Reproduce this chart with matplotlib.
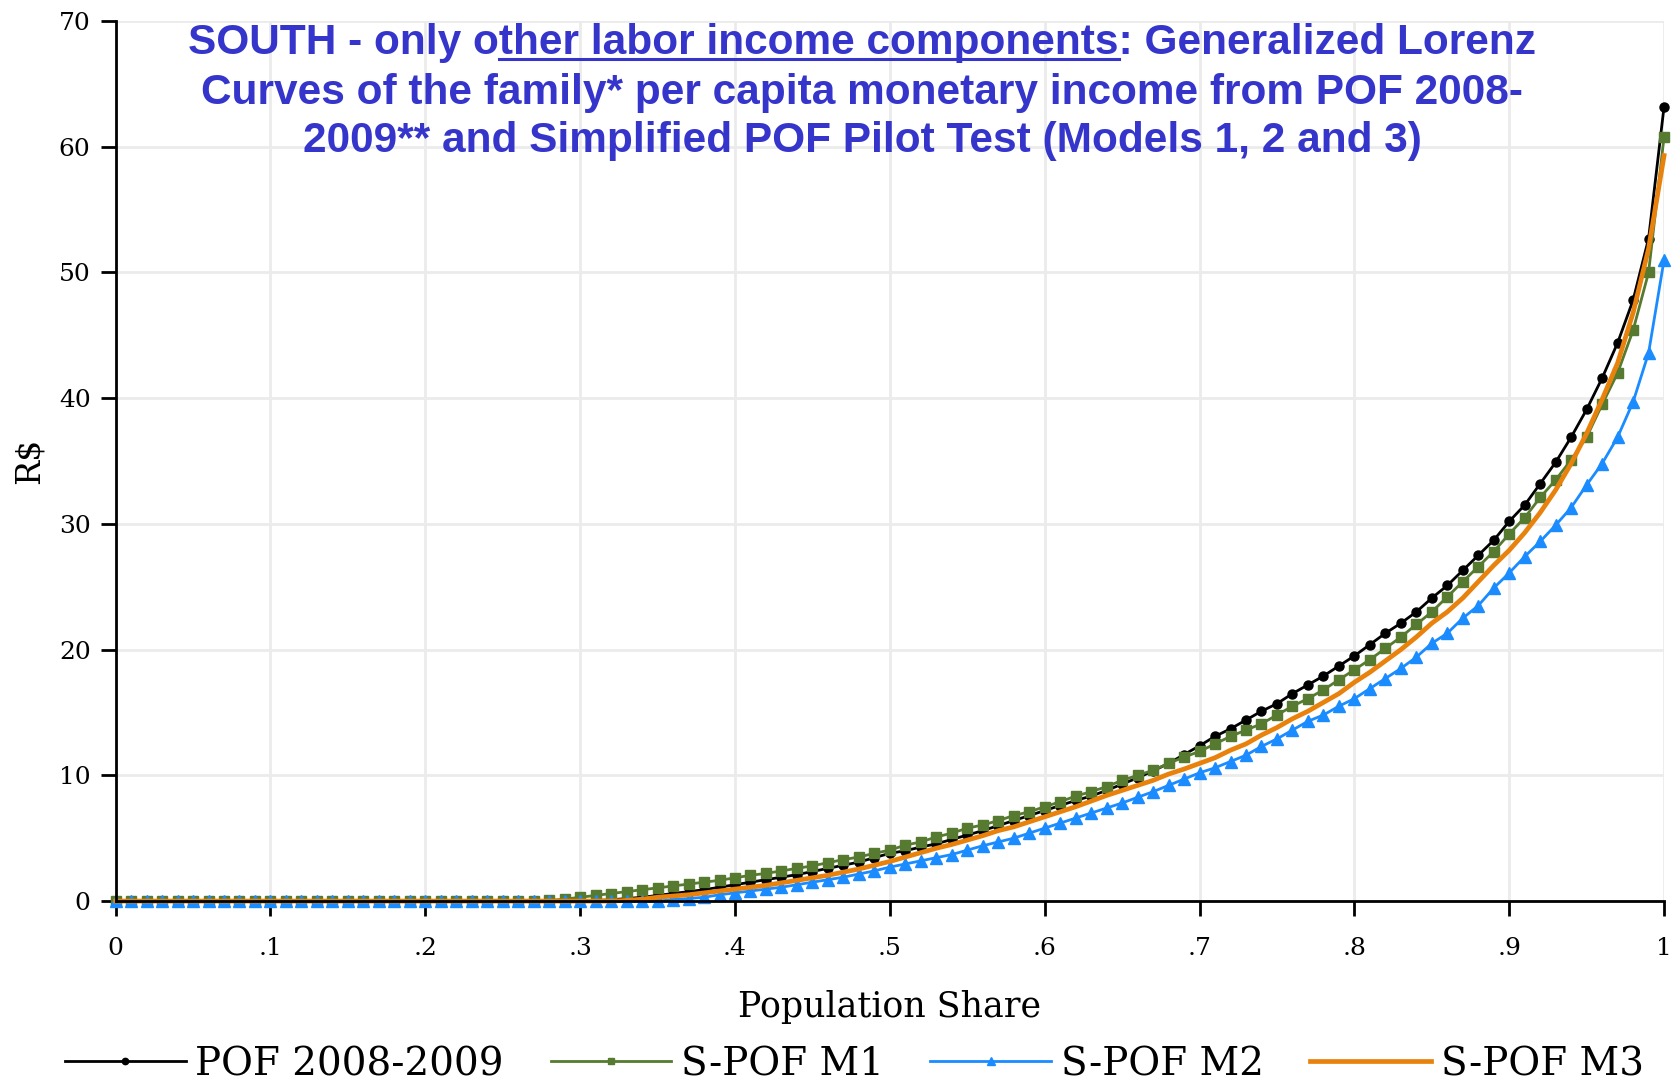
import numpy as np
import matplotlib
matplotlib.use("Agg")
import matplotlib.pyplot as plt
from matplotlib.lines import Line2D

# population share grid (percentiles)
share = np.linspace(0, 1, 101)

pof_2008_2009 = [
    0, 0, 0, 0, 0, 0, 0, 0, 0, 0,
    0, 0, 0, 0, 0, 0, 0, 0, 0, 0,
    0, 0, 0, 0, 0, 0, 0, 0, 0, 0,
    0.0, 0.05, 0.1, 0.2, 0.3, 0.45, 0.6, 0.75, 0.9, 1.1,
    1.3, 1.5, 1.7, 1.9, 2.1, 2.35, 2.6, 2.85, 3.1, 3.45,
    3.8, 4.0, 4.3, 4.55, 4.9, 5.25, 5.6, 6.0, 6.4, 6.8,
    7.2, 7.6, 8.0, 8.35, 8.8, 9.3, 9.8, 10.35, 10.95, 11.65,
    12.35, 13.1, 13.7, 14.4, 15.1, 15.7, 16.5, 17.2, 17.9, 18.7,
    19.5, 20.4, 21.3, 22.1, 23.0, 24.1, 25.1, 26.3, 27.5, 28.7,
    30.2, 31.5, 33.2, 34.9, 36.9, 39.1, 41.6, 44.4, 47.8, 52.7,
    63.2,
]

spof_m1 = [
    0, 0, 0, 0, 0, 0, 0, 0, 0, 0,
    0, 0, 0, 0, 0, 0, 0, 0, 0, 0,
    0, 0, 0, 0, 0, 0, 0, 0, 0.05, 0.15,
    0.3, 0.45, 0.6, 0.75, 0.9, 1.05, 1.2, 1.35, 1.5, 1.65,
    1.85, 2.05, 2.2, 2.4, 2.6, 2.8, 3.05, 3.3, 3.5, 3.8,
    4.05, 4.45, 4.7, 5.1, 5.4, 5.8, 6.05, 6.4, 6.8, 7.1,
    7.5, 7.9, 8.35, 8.7, 9.1, 9.6, 10.0, 10.4, 10.95, 11.45,
    11.9, 12.5, 13.1, 13.6, 14.1, 14.8, 15.5, 16.1, 16.8, 17.6,
    18.4, 19.2, 20.1, 21.0, 22.0, 23.0, 24.2, 25.4, 26.6, 27.8,
    29.2, 30.5, 32.1, 33.5, 35.1, 36.9, 39.5, 42.0, 45.4, 50.0,
    60.8,
]

spof_m2 = [
    0, 0, 0, 0, 0, 0, 0, 0, 0, 0,
    0, 0, 0, 0, 0, 0, 0, 0, 0, 0,
    0, 0, 0, 0, 0, 0, 0, 0, 0, 0,
    0, 0, 0, 0, 0, 0, 0.1, 0.2, 0.3, 0.5,
    0.65, 0.8, 0.95, 1.1, 1.3, 1.5, 1.7, 1.9, 2.15, 2.4,
    2.7, 2.95, 3.2, 3.45, 3.7, 4.05, 4.4, 4.7, 5.0, 5.4,
    5.8, 6.2, 6.6, 7.0, 7.4, 7.8, 8.25, 8.7, 9.2, 9.7,
    10.2, 10.6, 11.1, 11.6, 12.3, 12.9, 13.6, 14.3, 14.8, 15.5,
    16.1, 16.9, 17.7, 18.5, 19.4, 20.5, 21.3, 22.5, 23.5, 24.9,
    26.1, 27.4, 28.6, 29.9, 31.3, 33.1, 34.8, 36.9, 39.7, 43.6,
    51.0,
]

spof_m3 = [
    0, 0, 0, 0, 0, 0, 0, 0, 0, 0,
    0, 0, 0, 0, 0, 0, 0, 0, 0, 0,
    0, 0, 0, 0, 0, 0, 0, 0, 0, 0,
    0, 0, 0, 0.05, 0.15, 0.3, 0.4, 0.5, 0.65, 0.8,
    0.95, 1.1, 1.25, 1.45, 1.65, 1.85, 2.05, 2.3, 2.55, 2.85,
    3.15, 3.5, 3.85, 4.2, 4.5, 4.85, 5.2, 5.6, 5.9, 6.3,
    6.7, 7.1, 7.5, 7.95, 8.4, 8.8, 9.2, 9.6, 10.1, 10.5,
    10.95, 11.4, 12.0, 12.5, 13.2, 13.8, 14.5, 15.1, 15.8, 16.5,
    17.4, 18.2, 19.1, 20.0, 21.0, 22.1, 23.0, 24.1, 25.4, 26.7,
    27.9, 29.3, 30.9, 32.7, 34.8, 37.2, 39.9, 42.8, 46.8, 51.9,
    59.3,
]

x_ticks = [0, 0.1, 0.2, 0.3, 0.4, 0.5, 0.6, 0.7, 0.8, 0.9, 1.0]
x_tick_labels = ["0", ".1", ".2", ".3", ".4", ".5", ".6", ".7", ".8", ".9", "1"]
y_ticks = [0, 10, 20, 30, 40, 50, 60, 70]

title_lines = [
    "SOUTH - only other labor income components: Generalized Lorenz",
    "Curves of the family* per capita monetary income from POF 2008-",
    "2009** and Simplified POF Pilot Test (Models 1, 2 and 3)",
]
title_prefix = "SOUTH - only o"
title_underlined = "ther labor income components"

serif = "DejaVu Serif"
title_color = "#3535CC"

fig = plt.figure(figsize=(16.78, 10.83), dpi=100)
ax = fig.add_axes([0.0689, 0.168, 0.9228, 0.8126])

ax.plot(share, pof_2008_2009, color="black", lw=2, marker="o", ms=6.5,
        label="POF 2008-2009", clip_on=False)
ax.plot(share, spof_m1, color="#567A30", lw=2, marker="s", ms=6.5,
        label="S-POF M1", clip_on=False)
ax.plot(share, spof_m2, color="#1A8CFF", lw=2, marker="^", ms=8.5,
        label="S-POF M2", clip_on=False)
ax.plot(share, spof_m3, color="#E8820C", lw=3.4,
        label="S-POF M3", clip_on=False)

ax.set_xlim(0, 1)
ax.set_ylim(0, 70)
ax.set_xticks(x_ticks)
ax.set_xticklabels(x_tick_labels)
ax.set_yticks(y_ticks)
ax.grid(True, color="#ebebeb", lw=2)
ax.set_axisbelow(True)

for side in ["top", "right"]:
    ax.spines[side].set_visible(False)
for side in ["left", "bottom"]:
    ax.spines[side].set_linewidth(2)
    ax.spines[side].set_zorder(5)

ax.tick_params(axis="x", length=11, width=2, pad=15, labelsize=18)
ax.tick_params(axis="y", length=11, width=2, pad=7, labelsize=18)
for lab in ax.get_xticklabels() + ax.get_yticklabels():
    lab.set_family(serif)

ax.set_xlabel("Population Share", family=serif, fontsize=25)
ax.xaxis.label.set_va("center")
ax.xaxis.set_label_coords(0.5, -0.12)
ax.set_ylabel("R$", family=serif, fontsize=24)
ax.yaxis.set_label_coords(-0.045, 0.5)

# title (blue, three lines, with an underlined part)
title_x = 0.514
title_y = [0.960, 0.914, 0.870]
title_kw = dict(ha="center", va="center", color=title_color,
                family="Liberation Sans", fontweight="bold", fontsize=30.5)
texts = [fig.text(title_x, y, s, **title_kw) for s, y in zip(title_lines, title_y)]

fig.canvas.draw()
r = fig.canvas.get_renderer()
tmp = fig.text(0, 0, title_prefix, **title_kw)
w_pre = tmp.get_window_extent(r).width
tmp.set_text(title_prefix + title_underlined)
w_all = tmp.get_window_extent(r).width
tmp.remove()
bb = texts[0].get_window_extent(r)
fw = fig.bbox.width
x0 = (bb.x0 + w_pre) / fw
x1 = (bb.x0 + w_all) / fw
fig.add_artist(Line2D([x0, x1], [0.9455, 0.9455], color=title_color, lw=2.2,
                      transform=fig.transFigure))

leg = fig.legend(loc="center left", bbox_to_anchor=(0.018, 0.017), ncol=4,
                 frameon=False, handlelength=3.1, handletextpad=0.25,
                 columnspacing=1.2, prop={"family": serif, "size": 28},
                 markerscale=0.7)

fig.savefig("out.png", dpi=100)
